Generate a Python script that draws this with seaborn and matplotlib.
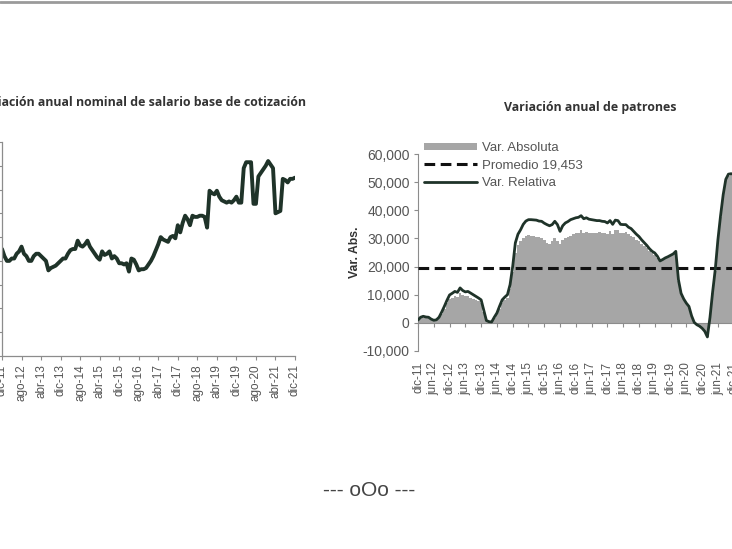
import numpy as np
import pandas as pd
import matplotlib
matplotlib.use('Agg')
import matplotlib.pyplot as plt
from matplotlib.lines import Line2D
from matplotlib.patches import Patch
import seaborn as sns

sns.set_style('white')
plt.rcParams['font.family'] = ['Liberation Sans', 'DejaVu Sans']

# salario base de cotizacion, variacion anual nominal (%), dic-11 .. dic-21
salario = [4.5, 4.2, 4.0, 4.0, 4.1, 4.1, 4.3, 4.4, 4.6, 4.3, 4.2, 4.0, 4.0, 4.2, 4.3, 4.3,
           4.2, 4.1, 4.0, 3.6, 3.7, 3.75, 3.8, 3.9, 4.0, 4.1, 4.1, 4.3, 4.45, 4.5, 4.5, 4.85,
           4.65, 4.6, 4.7, 4.85, 4.6, 4.45, 4.3, 4.15, 4.05, 4.4, 4.25, 4.3, 4.4, 4.1, 4.2, 4.1,
           3.9, 3.9, 3.85, 3.9, 3.55, 4.1, 4.05, 3.85, 3.6, 3.65, 3.65, 3.7, 3.85, 4.0, 4.2, 4.45,
           4.7, 5.0, 4.9, 4.85, 4.8, 5.0, 5.05, 4.95, 5.5, 5.2, 5.6, 5.9, 5.75, 5.5, 5.9, 5.85,
           5.85, 5.9, 5.9, 5.85, 5.4, 6.95, 6.85, 6.8, 6.95, 6.7, 6.55, 6.5, 6.45, 6.5, 6.45, 6.55,
           6.7, 6.45, 6.45, 7.9, 8.15, 8.15, 8.15, 6.4, 6.4, 7.55, 7.7, 7.85, 8.0, 8.2, 8.05, 7.9,
           6.0, 6.05, 6.1, 7.45, 7.4, 7.3, 7.45, 7.45, 7.5]

# patrones: variacion absoluta (miles) y relativa (%)
var_absoluta = [0.8, 1.6, 1.9, 1.8, 1.6, 1.0, 0.7, 0.9, 1.6, 3.2, 5.0, 7.0, 8.5, 9.0, 9.5, 9.3,
                10.5, 9.8, 9.4, 9.6, 9.0, 8.6, 8.0, 7.6, 7.0, 3.8, 0.6, 0.3, 0.2, 1.7, 3.0, 5.0,
                7.0, 8.0, 8.7, 12.0, 18.0, 25.0, 27.5, 29.0, 30.0, 31.0, 31.2, 31.0, 31.0, 30.5, 30.5, 30.0,
                29.5, 28.5, 28.0, 29.0, 30.0, 29.0, 28.0, 29.5, 30.0, 30.5, 31.0, 31.5, 31.8, 32.0, 33.0, 32.0,
                32.3, 32.0, 32.0, 32.0, 32.0, 32.2, 32.0, 32.0, 31.5, 32.5, 31.5, 33.0, 33.0, 32.0, 32.0, 32.2,
                31.5, 31.0, 30.5, 29.5, 29.0, 28.0, 27.3, 26.5, 25.5, 24.7, 24.2, 23.2, 21.6, 22.2, 22.9, 23.3,
                23.8, 24.3, 25.0, 15.0, 10.4, 8.4, 6.9, 5.7, 2.4, 0.2, -0.7, -1.2, -1.9, -3.0, -5.0, 1.8,
                10.5, 18.5, 29.0, 37.5, 45.0, 50.5, 52.3, 52.5, 52.3]
var_relativa = [0.12, 0.24, 0.28, 0.25, 0.24, 0.16, 0.11, 0.13, 0.24, 0.46, 0.70, 0.96, 1.19, 1.26, 1.34, 1.30,
                1.49, 1.38, 1.32, 1.34, 1.27, 1.20, 1.13, 1.06, 0.98, 0.54, 0.10, 0.05, 0.04, 0.24, 0.42, 0.71,
                0.98, 1.10, 1.20, 1.63, 2.41, 3.41, 3.78, 3.97, 4.20, 4.34, 4.40, 4.40, 4.39, 4.38, 4.34, 4.33,
                4.25, 4.19, 4.14, 4.19, 4.33, 4.19, 3.90, 4.14, 4.26, 4.32, 4.40, 4.44, 4.48, 4.50, 4.57, 4.44,
                4.48, 4.42, 4.40, 4.38, 4.36, 4.36, 4.33, 4.32, 4.26, 4.36, 4.20, 4.38, 4.36, 4.20, 4.19, 4.19,
                4.08, 4.02, 3.90, 3.78, 3.68, 3.54, 3.42, 3.30, 3.16, 3.05, 2.98, 2.84, 2.64, 2.70, 2.77, 2.82,
                2.88, 2.94, 3.05, 1.84, 1.26, 1.02, 0.84, 0.70, 0.30, 0.02, -0.08, -0.14, -0.23, -0.36, -0.60, 0.24,
                1.32, 2.28, 3.54, 4.56, 5.46, 6.12, 6.34, 6.36, 6.34]
promedio = 19453

ticks_izq = ['dic-11', 'ago-12', 'abr-13', 'dic-13', 'ago-14', 'abr-15', 'dic-15', 'ago-16',
             'abr-17', 'dic-17', 'ago-18', 'abr-19', 'dic-19', 'ago-20', 'abr-21', 'dic-21']
ticks_der = ['dic-11', 'jun-12', 'dic-12', 'jun-13', 'dic-13', 'jun-14', 'dic-14', 'jun-15',
             'dic-15', 'jun-16', 'dic-16', 'jun-17', 'dic-17', 'jun-18', 'dic-18', 'jun-19',
             'dic-19', 'jun-20', 'dic-20', 'jun-21', 'dic-21']

mes = np.arange(len(salario))
df = pd.DataFrame({'mes': mes, 'salario': salario,
                   'abs': np.array(var_absoluta) * 1000, 'rel': var_relativa})

linea = '#1f3329'
gris_txt = '#555555'
eje = '#8c8c8c'

fig = plt.figure(figsize=(7.32, 5.49), dpi=100)
W, H = 732, 549

def rect(x0, x1, ytop, ybot):
    return [x0 / W, (H - ybot) / H, (x1 - x0) / W, (ybot - ytop) / H]

# ---- left chart
ax1 = fig.add_axes(rect(2, 295, 142, 356))
sns.lineplot(data=df, x='mes', y='salario', ax=ax1, color=linea, lw=2.8)
ax1.set_xlim(0, 120)
ax1.set_ylim(0, 9)
ax1.set_yticks(range(10))
ax1.set_xticks(range(0, 121, 8))
ax1.set_xticklabels(ticks_izq, rotation=90, fontsize=8.5, color=gris_txt)
ax1.tick_params(axis='y', labelleft=False, length=3, color=eje, direction='out', left=True)
ax1.tick_params(axis='x', length=3, color=eje, direction='out', bottom=True, pad=3)
ax1.set_xlabel('')
ax1.set_ylabel('')
for s in ['top', 'right']:
    ax1.spines[s].set_visible(False)
for s in ['left', 'bottom']:
    ax1.spines[s].set_color(eje)
    ax1.spines[s].set_linewidth(0.9)
fig.text(306 / W, 1 - 103 / H, 'Variación anual nominal de salario base de cotización',
         ha='right', va='center', fontsize=8.9, fontweight='bold', color='#333333',
         family=['Open Sans', 'DejaVu Sans'])

# ---- right chart
ax2 = fig.add_axes(rect(418, 735, 154, 351))
sns.barplot(data=df, x='mes', y='abs', ax=ax2, color='#a6a6a6', width=1.0,
            saturation=1, linewidth=0, edgecolor='none')
ax2.axhline(promedio, color='#111111', lw=2.2, ls=(0, (3.5, 1.8)), zorder=3)
ax2.set_xlim(0, 120.5)
ax2.set_ylim(-10000, 60000)
ax2.set_yticks(range(-10000, 60001, 10000))
ax2.set_yticklabels([f'{v:,}' for v in range(-10000, 60001, 10000)], fontsize=10, color=gris_txt)
ax2.set_xticks(range(0, 121, 6))
ax2.tick_params(axis='x', labelbottom=False, length=3, color=eje, direction='out', bottom=True)
ax2.tick_params(axis='y', length=3, color=eje, direction='out', left=True, pad=3)
ax2.spines['bottom'].set_position(('data', 0))
ax2.spines['bottom'].set_color(eje)
ax2.spines['left'].set_color(eje)
for s in ['top', 'right']:
    ax2.spines[s].set_visible(False)
ax2.set_xlabel('')
ax2.set_ylabel('Var. Abs.', fontsize=8.8, fontweight='bold', color='#333333', labelpad=1)

sec = ax2.secondary_xaxis('bottom')
sec.set_xticks(range(0, 121, 6))
sec.set_xticklabels(ticks_der, rotation=90, fontsize=8.5, color=gris_txt)
sec.tick_params(length=0, pad=8)
sec.spines['bottom'].set_visible(False)

ax3 = ax2.twinx()
sns.lineplot(data=df, x='mes', y='rel', ax=ax3, color=linea, lw=2.0)
ax3.set_ylim(-1.2, 7.2)
ax3.set_yticks([])
ax3.set_ylabel('')
for s in ax3.spines.values():
    s.set_visible(False)

handles = [Patch(facecolor='#a6a6a6', edgecolor='none'),
           Line2D([], [], color='#111111', lw=2.2, ls=(0, (3.5, 1.8))),
           Line2D([], [], color=linea, lw=2.0)]
ax3.legend(handles, ['Var. Absoluta', 'Promedio 19,453', 'Var. Relativa'],
           loc='upper left', bbox_to_anchor=(0.02, 1.06), frameon=False,
           fontsize=9.5, handlelength=4.0, handleheight=0.5, handletextpad=0.4,
           labelspacing=0.42, borderpad=0, borderaxespad=0, labelcolor=gris_txt)

fig.text(590 / W, 1 - 107 / H, 'Variación anual de patrones', ha='center', va='center',
         fontsize=8.9, fontweight='bold', color='#333333', family=['Open Sans', 'DejaVu Sans'])

fig.text(369 / W, 1 - 491 / H, '--- oOo ---', ha='center', va='center',
         fontsize=15, color='#444444')

fig.add_artist(Line2D([0, 1], [1 - 1.5 / H, 1 - 1.5 / H], transform=fig.transFigure,
                      color='#9a9a9a', lw=2))

fig.savefig('out.png', dpi=100)
